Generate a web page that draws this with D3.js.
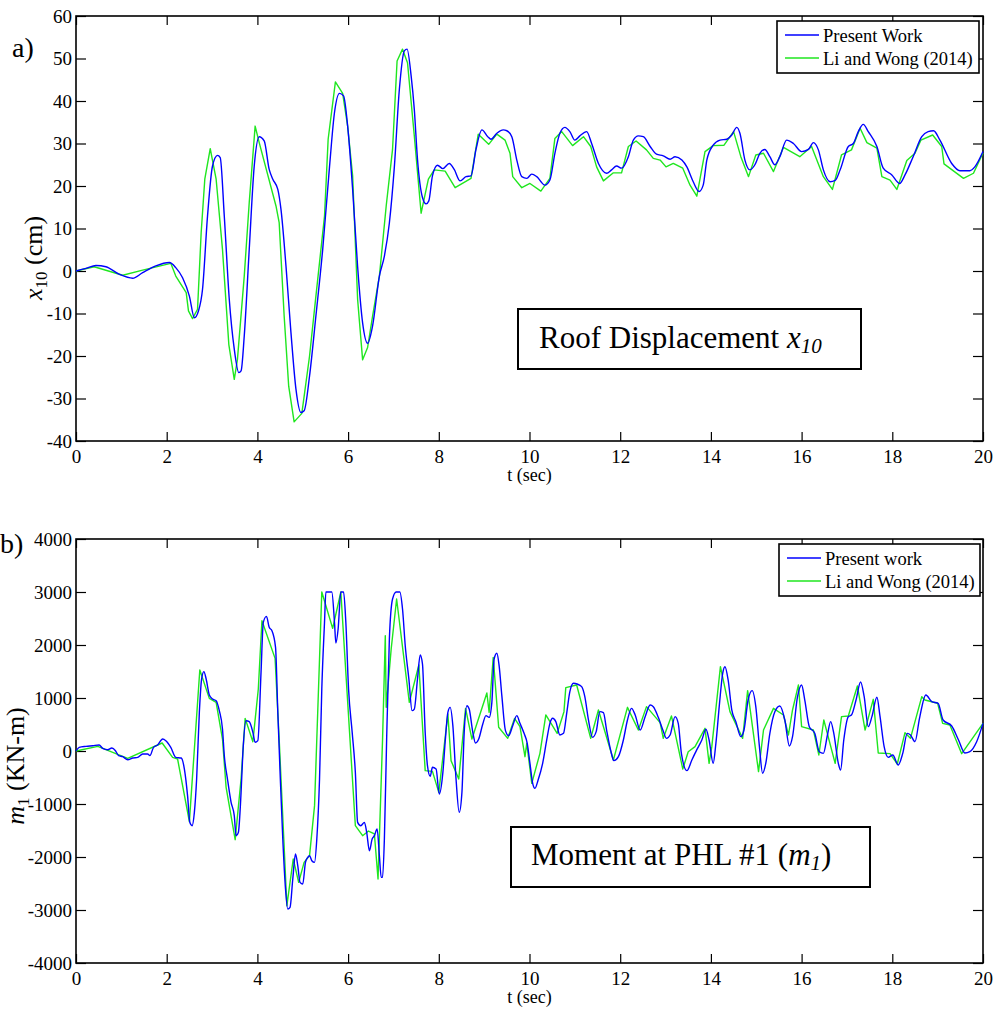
<!DOCTYPE html>
<html>
<head>
<meta charset="utf-8">
<script src="https://cdnjs.cloudflare.com/ajax/libs/d3/7.8.5/d3.min.js"></script>
<style>
  body { margin: 0; background: #fff; }
  svg { display: block; }
  text { font-family: "Liberation Serif", "Times New Roman", serif; fill: #000; }
</style>
</head>
<body>
<svg id="fig" width="1005" height="1012"></svg>
<script>
// Roof displacement x10 (cm) against time (s)
const roofPresent = [
  [0,0],[0.22,0.6],[0.44,1.3],[0.66,1.0],[0.96,-0.8],[1.25,-1.7],[1.47,-0.4],[1.76,1.2],[2.06,2.0],
  [2.2,0.8],[2.35,-1.6],[2.5,-5.9],[2.61,-11.0],[2.7,-9.4],[2.79,-4.3],[2.9,12.9],[3.01,24.7],
  [3.12,27.2],[3.18,26.7],[3.27,12.9],[3.38,-6.7],[3.49,-18.4],[3.59,-23.9],[3.64,-23.5],[3.71,-15.3],
  [3.82,5.1],[3.93,24.7],[4.04,31.6],[4.15,30.6],[4.26,23.9],[4.34,21.6],[4.45,19.2],[4.52,14.5],
  [4.63,1.2],[4.74,-14.5],[4.85,-27.8],[4.96,-33.3],[5.03,-32.9],[5.15,-24.7],[5.29,-10.6],[5.44,5.1],
  [5.59,24.5],[5.70,37.3],[5.81,41.8],[5.90,41.2],[5.99,34.1],[6.10,19.2],[6.21,1.0],[6.32,-12.2],
  [6.43,-17.0],[6.54,-12.9],[6.69,-1.2],[6.80,3.5],[6.91,11.3],[7.02,24.5],[7.13,42.7],[7.24,51.8],
  [7.30,52.2],[7.39,45.9],[7.46,38.0],[7.53,26.3],[7.64,17.3],[7.72,15.8],[7.78,16.5],[7.86,22.4],
  [7.97,24.9],[8.09,24.1],[8.23,25.3],[8.34,23.9],[8.47,21.2],[8.60,22.2],[8.71,22.4],[8.82,28.6],
  [8.95,33.2],[9.08,31.6],[9.15,31.0],[9.28,32.4],[9.42,33.2],[9.50,33.0],[9.61,31.6],[9.72,26.1],
  [9.83,22.2],[9.94,21.8],[10.05,22.8],[10.16,22.2],[10.34,20.2],[10.45,21.4],[10.56,27.7],[10.67,32.4],
  [10.78,33.8],[10.89,32.8],[11.0,30.8],[11.11,31.8],[11.26,32.8],[11.37,30.0],[11.52,25.3],[11.70,23.0],
  [11.81,23.8],[11.92,24.7],[12.03,24.2],[12.18,26.9],[12.29,30.8],[12.40,31.8],[12.51,31.6],[12.66,29.3],
  [12.80,27.5],[12.95,27.1],[13.10,26.3],[13.21,26.9],[13.36,26.1],[13.47,24.5],[13.61,21.0],[13.74,18.7],
  [13.83,20.2],[13.91,26.1],[14.05,29.6],[14.20,30.8],[14.35,31.0],[14.46,32.0],[14.57,33.8],[14.64,32.4],
  [14.75,26.1],[14.86,23.8],[14.97,25.0],[15.08,27.7],[15.19,28.6],[15.30,26.9],[15.41,25.0],[15.52,26.9],
  [15.67,30.8],[15.82,30.0],[16.0,28.1],[16.15,28.6],[16.26,30.2],[16.37,28.5],[16.48,23.8],[16.63,21.0],
  [16.74,21.3],[16.85,23.8],[17.03,29.3],[17.14,30.0],[17.25,32.8],[17.36,34.5],[17.47,32.8],[17.66,29.3],
  [17.80,24.2],[17.99,22.6],[18.16,20.6],[18.28,22.6],[18.46,26.9],[18.65,31.6],[18.79,32.8],[18.91,33.0],
  [19.05,30.8],[19.31,25.3],[19.49,23.6],[19.71,23.6],[19.82,24.5],[20.0,28.1]
];
const roofLiWong = [
  [0,0],[0.40,1.0],[1.03,-1.0],[1.47,0.2],[2.09,1.8],[2.2,-1.2],[2.43,-5.1],[2.48,-9.4],[2.57,-11.2],
  [2.68,-9.0],[2.76,9.0],[2.84,21.6],[2.96,28.8],[3.09,21.6],[3.23,5.1],[3.37,-17.3],[3.49,-25.5],
  [3.56,-20.8],[3.71,-1.2],[3.82,16.1],[3.95,34.1],[4.04,30.2],[4.41,15.3],[4.48,11.4],[4.59,-10.6],
  [4.69,-27.1],[4.81,-35.5],[4.98,-33.5],[5.15,-20.0],[5.29,-5.9],[5.48,12.9],[5.56,31.0],[5.72,44.5],
  [5.88,41.8],[5.99,34.1],[6.10,22.4],[6.21,-6.7],[6.32,-20.9],[6.43,-18.0],[6.54,-10.6],[6.69,-1.2],
  [6.84,15.3],[6.98,28.6],[7.08,49.4],[7.20,52.2],[7.31,49.0],[7.46,31.8],[7.61,13.6],[7.77,21.6],
  [7.90,23.8],[8.14,23.5],[8.36,19.6],[8.71,21.8],[8.87,32.2],[9.10,29.8],[9.28,32.2],[9.46,30.8],
  [9.57,27.7],[9.63,22.2],[9.83,19.6],[10.01,20.6],[10.25,18.8],[10.45,21.8],[10.56,31.2],[10.71,32.8],
  [10.95,29.5],[11.19,31.6],[11.35,29.3],[11.48,24.5],[11.63,21.2],[11.85,23.1],[12.03,23.1],[12.18,29.3],
  [12.35,30.6],[12.58,28.5],[12.73,26.5],[12.88,26.1],[13.01,24.5],[13.17,25.3],[13.38,24.2],[13.54,20.2],
  [13.69,17.6],[13.87,28.1],[14.05,29.5],[14.29,29.6],[14.50,32.8],[14.66,26.9],[14.83,22.2],[14.99,27.3],
  [15.16,27.7],[15.38,23.4],[15.60,29.1],[15.96,26.9],[16.22,29.3],[16.48,22.2],[16.68,19.2],[16.88,27.3],
  [17.10,28.5],[17.29,33.6],[17.44,30.2],[17.66,28.9],[17.77,22.2],[17.95,21.4],[18.10,19.2],[18.32,26.0],
  [18.50,27.7],[18.63,30.8],[18.89,32.0],[19.09,29.3],[19.14,25.2],[19.57,21.8],[19.79,23.0],[20.0,27.8]
];

// Moment at plastic hinge #1, m1 (kN-m) against time (s)
const momentPresent = [
  [0,0],[0.07,69],[0.22,88],[0.37,100],[0.51,113],[0.59,50],[0.70,25],[0.79,57],[0.87,6],[0.94,-88],
  [1.03,-107],[1.14,-164],[1.25,-132],[1.36,-120],[1.47,-57],[1.58,-57],[1.63,-88],[1.71,69],[1.80,113],
  [1.91,226],[1.98,195],[2.09,69],[2.20,-120],[2.32,-132],[2.39,-340],[2.46,-843],[2.51,-1346],[2.56,-1409],
  [2.61,-1157],[2.66,-528],[2.72,730],[2.77,1359],[2.82,1497],[2.87,1359],[2.94,1057],[3.01,981],[3.09,950],
  [3.16,761],[3.23,415],[3.27,-88],[3.34,-528],[3.42,-969],[3.49,-1220],[3.53,-1598],[3.58,-1535],[3.64,-780],
  [3.68,-25],[3.75,572],[3.82,553],[3.90,352],[3.95,164],[4.01,195],[4.08,1484],[4.13,2428],[4.20,2541],
  [4.26,2333],[4.32,2270],[4.40,1956],[4.45,730],[4.50,-403],[4.56,-1661],[4.62,-2605],[4.67,-2982],
  [4.72,-2950],[4.78,-2416],[4.84,-1944],[4.89,-2164],[4.94,-2479],[5.00,-2510],[5.06,-2101],[5.11,-2006],
  [5.15,-1975],[5.20,-2070],[5.26,-2101],[5.31,-1661],[5.37,-528],[5.42,1170],[5.48,2428],[5.51,3000],
  [5.64,3000],[5.70,2428],[5.73,2038],[5.78,2302],[5.84,3000],[5.90,3000],[5.95,2428],[6.01,1170],
  [6.09,352],[6.16,-403],[6.21,-1346],[6.28,-1409],[6.36,-1346],[6.41,-1535],[6.47,-1881],[6.53,-1661],
  [6.58,-1598],[6.64,-1472],[6.69,-1975],[6.73,-2384],[6.76,-2384],[6.80,-1661],[6.85,226],[6.91,2113],
  [6.98,2868],[7.06,3000],[7.14,3000],[7.20,2679],[7.26,1987],[7.34,1358],[7.41,761],[7.46,792],
  [7.53,1358],[7.59,1811],[7.64,1641],[7.70,352],[7.75,-277],[7.81,-478],[7.86,-308],[7.94,-340],
  [8.01,-811],[8.09,-403],[8.14,164],[8.20,730],[8.25,824],[8.31,478],[8.38,-528],[8.45,-1157],
  [8.51,-780],[8.56,352],[8.62,855],[8.67,792],[8.75,352],[8.81,151],[8.88,226],[8.97,509],[9.04,667],
  [9.11,635],[9.17,918],[9.22,1736],[9.28,1843],[9.33,1610],[9.39,1044],[9.47,384],[9.54,289],[9.63,478],
  [9.72,667],[9.79,522],[9.88,333],[9.95,145],[10.01,-233],[10.07,-610],[10.12,-704],[10.19,-547],
  [10.29,-233],[10.38,208],[10.45,522],[10.51,617],[10.58,554],[10.67,302],[10.75,333],[10.82,711],
  [10.89,1120],[10.97,1277],[11.05,1264],[11.15,1214],[11.22,1025],[11.30,585],[11.39,258],[11.47,365],
  [11.55,742],[11.63,723],[11.70,396],[11.79,13],[11.86,-182],[11.96,-107],[12.07,208],[12.16,585],
  [12.25,805],[12.33,680],[12.44,396],[12.55,648],[12.66,868],[12.73,837],[12.84,635],[12.94,396],
  [13.02,239],[13.10,302],[13.21,648],[13.28,522],[13.35,-50],[13.47,-371],[13.58,-170],[13.69,25],
  [13.80,208],[13.89,409],[13.96,208],[14.05,-233],[14.11,145],[14.19,899],[14.26,1466],[14.31,1591],
  [14.38,1340],[14.46,774],[14.55,554],[14.66,271],[14.73,396],[14.82,962],[14.91,1139],[14.99,837],
  [15.07,82],[15.14,-421],[15.21,-233],[15.30,333],[15.41,742],[15.52,849],[15.63,585],[15.73,94],
  [15.80,271],[15.91,1025],[16.00,1246],[16.07,962],[16.17,459],[16.29,333],[16.39,-13],[16.48,-44],
  [16.57,302],[16.64,554],[16.71,333],[16.81,-233],[16.86,-359],[16.93,208],[17.03,648],[17.10,680],
  [17.20,962],[17.30,1302],[17.38,1025],[17.47,459],[17.55,648],[17.66,1013],[17.73,648],[17.82,82],
  [17.91,-120],[18.01,-75],[18.13,-264],[18.23,-44],[18.33,333],[18.40,302],[18.50,176],[18.60,617],
  [18.74,1057],[18.87,931],[19.01,900],[19.12,585],[19.31,472],[19.46,208],[19.60,-38],[19.71,-13],
  [19.86,176],[20.0,522]
];
const momentLiWong = [
  [0,0],[0.48,88],[1.14,-138],[1.80,113],[1.90,151],[2.13,-120],[2.24,-151],[2.50,-1333],[2.73,1528],
  [2.94,993],[3.09,918],[3.23,226],[3.31,-686],[3.51,-1673],[3.64,-528],[3.73,616],[3.90,176],[4.02,1170],
  [4.10,2459],[4.39,1748],[4.48,226],[4.65,-2919],[4.79,-2038],[4.91,-2479],[5.03,-2101],[5.15,-1975],
  [5.26,-1031],[5.42,3000],[5.66,2314],[5.84,3000],[6.16,-1409],[6.32,-1598],[6.45,-1510],[6.58,-1566],
  [6.66,-2416],[6.76,226],[6.82,2176],[6.84,824],[6.95,1925],[7.07,2868],[7.35,918],[7.56,1622],
  [7.70,-371],[7.86,-384],[8.00,-780],[8.20,698],[8.27,-182],[8.44,-528],[8.59,805],[8.73,226],
  [9.06,1094],[9.11,730],[9.20,1767],[9.32,447],[9.52,239],[9.67,616],[9.79,459],[9.90,-107],[9.94,145],
  [10.05,-610],[10.23,-44],[10.36,680],[10.61,333],[10.76,742],[10.80,1195],[11.04,1246],[11.35,239],
  [11.52,774],[11.85,-170],[12.16,824],[12.40,396],[12.58,837],[12.88,535],[12.95,239],[13.13,661],
  [13.38,-340],[13.50,-13],[13.65,82],[13.87,428],[13.96,-233],[14.02,82],[14.21,1591],[14.42,742],
  [14.70,239],[14.81,1139],[15.05,-390],[15.16,396],[15.38,805],[15.60,680],[15.71,302],[15.80,774],
  [15.93,1246],[16.00,459],[16.26,396],[16.38,-75],[16.49,585],[16.74,-233],[16.88,648],[17.03,661],
  [17.23,1227],[17.40,396],[17.58,975],[17.69,-38],[17.95,-50],[18.11,-245],[18.28,346],[18.40,239],
  [18.65,1025],[18.72,962],[19.00,900],[19.11,522],[19.27,491],[19.53,-50],[20.0,522]
];

const timeTicks = d3.range(0, 21, 2);
const roofTicks = d3.range(-40, 61, 10);
const momentTicks = d3.range(-4000, 4001, 1000);

const BLUE = "#0000ff";
const GREEN = "#1fe61f";
const TICK_FONT = "19px";

const svg = d3.select("#fig");
// plain hyphen for negative numbers
const fmt = v => String(v);

function drawPanel(cfg) {
  const x = d3.scaleLinear().domain([0, 20]).range([cfg.left, cfg.right]);
  const y = d3.scaleLinear().domain(cfg.yDomain).range([cfg.bottom, cfg.top]);
  const g = svg.append("g");

  // inward ticks on all four sides
  const bottom = g.append("g").attr("transform", `translate(0,${cfg.bottom})`)
    .call(d3.axisBottom(x).tickValues(timeTicks).tickSize(-9).tickPadding(0).tickFormat(fmt));
  bottom.selectAll("text").attr("y", 22).attr("dy", null);
  g.append("g").attr("transform", `translate(0,${cfg.top})`)
    .call(d3.axisTop(x).tickValues(timeTicks).tickSize(-9).tickFormat(""));
  g.append("g").attr("transform", `translate(${cfg.left},0)`)
    .call(d3.axisLeft(y).tickValues(cfg.yTicks).tickSize(-10).tickPadding(4).tickFormat(fmt));
  g.append("g").attr("transform", `translate(${cfg.right},0)`)
    .call(d3.axisRight(y).tickValues(cfg.yTicks).tickSize(-10).tickFormat(""));
  g.selectAll(".domain").remove();
  g.selectAll(".tick line").attr("stroke", "#000").attr("stroke-width", 1.2);
  g.selectAll(".tick text").attr("fill", "#000")
    .style("font-family", "'Liberation Serif', serif").style("font-size", TICK_FONT);

  // plot box
  g.append("rect")
    .attr("x", cfg.left).attr("y", cfg.top)
    .attr("width", cfg.right - cfg.left).attr("height", cfg.bottom - cfg.top)
    .attr("fill", "none").attr("stroke", "#000").attr("stroke-width", 1.6);

  // series
  const smooth = d3.line().x(d => x(d[0])).y(d => y(d[1])).curve(d3.curveMonotoneX);
  const straight = d3.line().x(d => x(d[0])).y(d => y(d[1]));
  g.append("path").datum(cfg.ref).attr("d", straight)
    .attr("fill", "none").attr("stroke", GREEN).attr("stroke-width", 1.4).attr("stroke-linejoin", "round");
  g.append("path").datum(cfg.present).attr("d", smooth)
    .attr("fill", "none").attr("stroke", BLUE).attr("stroke-width", 1.4).attr("stroke-linejoin", "round");

  // x label
  g.append("text").attr("x", (cfg.left + cfg.right) / 2).attr("y", cfg.bottom + 40)
    .attr("text-anchor", "middle").style("font-size", "18px").text("t (sec)");

  // legend
  const L = cfg.legend;
  g.append("rect").attr("x", L.x).attr("y", L.y).attr("width", L.w).attr("height", L.h)
    .attr("fill", "#fff").attr("stroke", "#000").attr("stroke-width", 1.6);
  L.items.forEach((it, i) => {
    const ly = L.y + 14 + i * 23;
    g.append("line").attr("x1", L.x + 8).attr("x2", L.x + 42).attr("y1", ly).attr("y2", ly)
      .attr("stroke", it.color).attr("stroke-width", 1.4);
    g.append("text").attr("x", L.x + 46).attr("y", ly + 7).style("font-size", "18.5px").text(it.label);
  });

  // annotation box
  const A = cfg.note;
  g.append("rect").attr("x", A.x).attr("y", A.y).attr("width", A.w).attr("height", A.h)
    .attr("fill", "#fff").attr("stroke", "#000").attr("stroke-width", 2);
  const t = g.append("text").attr("x", A.tx).attr("y", A.ty).style("font-size", A.size + "px");
  A.parts(t);

  // panel letter
  g.append("text").attr("x", cfg.tag.x).attr("y", cfg.tag.y).style("font-size", "28px").text(cfg.tag.text);

  // y label
  const yl = g.append("text")
    .attr("transform", `translate(${cfg.ylab.x},${cfg.ylab.y}) rotate(-90)`)
    .attr("text-anchor", "middle").style("font-size", "26px");
  cfg.ylab.parts(yl);
}

drawPanel({
  left: 76, right: 983, top: 16, bottom: 441,
  yDomain: [-40, 60], yTicks: roofTicks,
  present: roofPresent, ref: roofLiWong,
  legend: { x: 777, y: 21, w: 202, h: 52,
    items: [{ label: "Present Work", color: BLUE }, { label: "Li and Wong (2014)", color: GREEN }] },
  note: { x: 518, y: 309, w: 343, h: 60, tx: 539, ty: 348, size: 31,
    parts: t => {
      t.append("tspan").text("Roof Displacement ");
      t.append("tspan").style("font-style", "italic").text("x");
      t.append("tspan").style("font-style", "italic").style("font-size", "21px").attr("dy", 5).text("10");
    } },
  tag: { x: 12, y: 57, text: "a)" },
  ylab: { x: 42, y: 258,
    parts: t => {
      t.append("tspan").style("font-style", "italic").text("x");
      t.append("tspan").style("font-size", "17px").attr("dy", 5).text("10");
      t.append("tspan").attr("dy", -5).text(" (cm)");
    } }
});

drawPanel({
  left: 76, right: 983, top: 539, bottom: 963,
  yDomain: [-4000, 4000], yTicks: momentTicks,
  present: momentPresent, ref: momentLiWong,
  legend: { x: 779, y: 544, w: 201, h: 52,
    items: [{ label: "Present work", color: BLUE }, { label: "Li and Wong (2014)", color: GREEN }] },
  note: { x: 511, y: 827, w: 359, h: 60, tx: 531, ty: 865, size: 31,
    parts: t => {
      t.append("tspan").text("Moment at PHL #1 (");
      t.append("tspan").style("font-style", "italic").text("m");
      t.append("tspan").style("font-style", "italic").style("font-size", "21px").attr("dy", 5).text("1");
      t.append("tspan").attr("dy", -5).text(")");
    } },
  tag: { x: 0, y: 553, text: "b)" },
  ylab: { x: 24, y: 766,
    parts: t => {
      t.append("tspan").style("font-style", "italic").text("m");
      t.append("tspan").style("font-size", "17px").attr("dy", 5).text("1");
      t.append("tspan").attr("dy", -5).text(" (KN-m)");
    } }
});
</script>
</body>
</html>
